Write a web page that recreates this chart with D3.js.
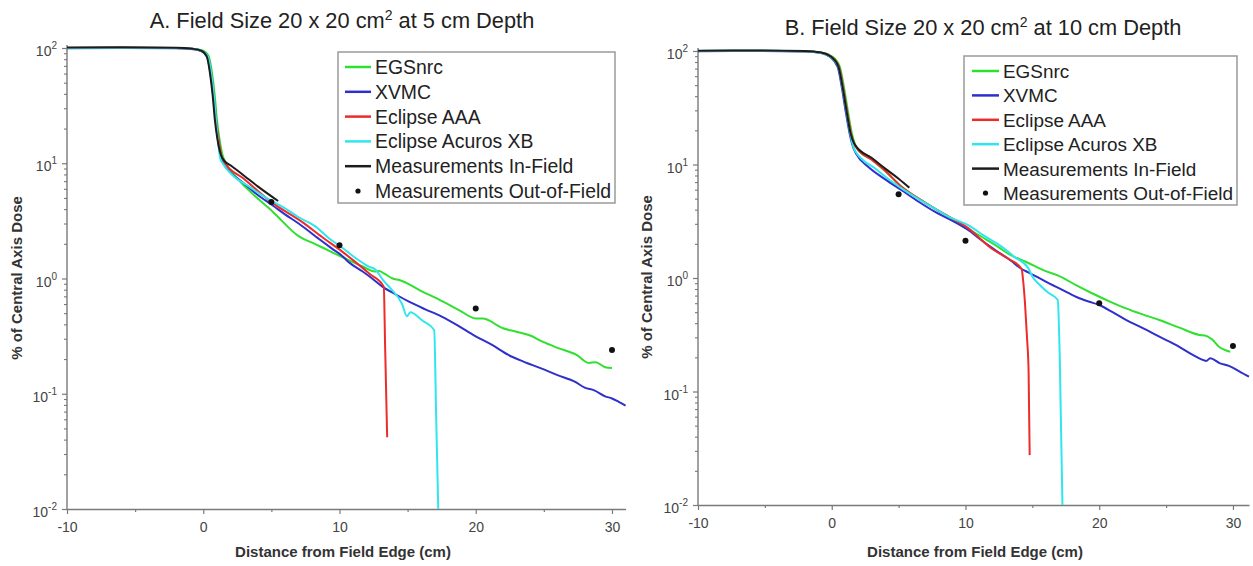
<!DOCTYPE html>
<html>
<head>
<meta charset="utf-8">
<script src="https://cdn.jsdelivr.net/npm/d3@7"></script>
<style>
  html, body { margin: 0; padding: 0; background: #fff; }
  svg { display: block; font-family: "Liberation Sans", Arial, sans-serif; }
</style>
</head>
<body>
<svg id="chart" width="1253" height="566"></svg>
<script>
// ---- Data: percent of central axis dose vs distance from field edge (cm) ----
const seriesNames = ["EGSnrc", "XVMC", "Eclipse AAA", "Eclipse Acuros XB", "Measurements In-Field", "Measurements Out-of-Field"];
const xTicksMajor = [-10, 0, 10, 20, 30];
const xTicksMinor = [-5, 5, 15, 25];
const yDecades = [-2, -1, 0, 1, 2];

// Panel A: 20 x 20 cm2 field, 5 cm depth
const egsA = [[-10,100],[-6,100.5],[-2,100],[-0.8,98.5],[-0.05,95],[0.4,85],[0.65,60],[0.85,38],[1.0,24],[1.2,16],[1.4,12],[1.6,10.4],[2.5,7.4],[3.5,5.6],[5.1,3.8],[7.0,2.33],[8.3,1.97],[9.5,1.68],[10.6,1.46],[11.7,1.27],[12.6,1.15],[12.9,1.16],[13.3,1.1],[13.9,1.0],[14.4,0.97],[15.9,0.79],[17.6,0.63],[18.8,0.53],[20.0,0.45],[20.5,0.45],[22.0,0.37],[23.0,0.345],[24.0,0.32],[24.9,0.283],[26.0,0.25],[27.4,0.217],[28.3,0.185],[28.8,0.188],[29.5,0.17],[30.0,0.167]];
const xvmcA = [[-10,99.5],[-6,100],[-2,99.5],[-0.9,98],[-0.15,94],[0.3,83],[0.55,58],[0.75,37],[0.9,24],[1.1,15.5],[1.3,11.3],[1.5,9.9],[2.0,8.3],[2.9,6.8],[4.0,5.3],[5.1,4.3],[6.0,3.6],[7.0,3.0],[8.5,2.2],[9.5,1.8],[10.2,1.57],[10.7,1.38],[11.7,1.15],[12.4,1.0],[13.15,0.85],[14.1,0.73],[15.1,0.63],[16.3,0.54],[17.5,0.467],[18.7,0.39],[19.9,0.32],[21.2,0.265],[22.4,0.217],[23.5,0.19],[24.8,0.166],[26.0,0.145],[27.3,0.127],[28.0,0.113],[28.7,0.107],[29.5,0.095],[30.0,0.091],[30.5,0.085],[31.0,0.079]];
const aaaA = [[-10,100],[-6,100.5],[-2,100],[-0.8,98.5],[-0.1,94.5],[0.35,84],[0.6,59],[0.8,37],[0.95,24],[1.15,15.5],[1.35,11.5],[1.55,10.2],[3,7.3],[5,4.6],[7.25,3.1],[8.7,2.3],[10.2,1.71],[11.2,1.38],[12.2,1.1],[13.25,0.85],[13.35,0.255],[13.5,0.042]];
const acurosA = [[-10,100],[-6,100.5],[-2,100],[-0.8,98.5],[-0.1,94.5],[0.35,84],[0.6,59],[0.8,37],[0.95,23],[1.1,15],[1.25,11],[1.45,9.9],[2.3,7.6],[3.35,6.3],[4.5,5.1],[5.8,4.2],[7.0,3.4],[8.25,2.82],[9.2,2.25],[10.2,1.85],[11.2,1.5],[12.15,1.27],[12.65,1.19],[13.2,0.97],[13.75,0.82],[14.6,0.6],[14.95,0.47],[15.2,0.51],[16.1,0.43],[16.95,0.357],[17.1,0.06],[17.25,0.01]];
const inFieldA = [[-10,101],[-6,101.3],[-2,100.5],[-0.8,98.5],[-0.15,95],[0.25,85],[0.5,60],[0.7,38],[0.85,24],[1.05,16],[1.3,11.8],[1.55,10.5],[2,9.6],[3,7.8],[4,6.3],[5.5,4.7]];
const outFieldXA = [5, 10, 20, 30];
const outFieldYA = [4.6, 1.94, 0.55, 0.24];

// Panel B: 20 x 20 cm2 field, 10 cm depth
const egsB = [[-10,100],[-6,100.5],[-2,99.5],[-0.7,96.5],[0,90],[0.6,73],[0.9,49],[1.2,30],[1.5,19],[1.75,15],[1.95,13.6],[3,11.0],[4,8.7],[5.2,6.4],[6.5,5.0],[8,3.9],[10,2.8],[11.5,2.2],[12.5,1.86],[13.25,1.62],[14.5,1.39],[15.2,1.27],[16,1.15],[17.1,1.03],[18.3,0.86],[19.5,0.73],[20.8,0.62],[22.0,0.54],[23.2,0.48],[24.5,0.427],[26,0.365],[27.5,0.315],[27.9,0.312],[28.4,0.29],[29.0,0.245],[29.8,0.224]];
const xvmcB = [[-10,99.5],[-6,100],[-2,99],[-0.8,96],[-0.15,89],[0.45,72],[0.75,48],[1.05,29],[1.35,18.5],[1.6,14.2],[1.85,12.3],[2.7,9.6],[4,7.4],[5.2,5.96],[6.5,4.7],[7.7,3.84],[9,3.2],[10.2,2.65],[11.2,2.15],[12.2,1.77],[13.4,1.42],[14.2,1.2],[14.7,1.12],[16,0.93],[17.2,0.79],[18.3,0.68],[19.2,0.62],[20.0,0.578],[21,0.5],[22.0,0.427],[23.3,0.36],[24.5,0.304],[25.8,0.255],[27.0,0.21],[27.6,0.193],[28.0,0.186],[28.3,0.196],[29.0,0.178],[29.7,0.168],[30.5,0.15],[31.2,0.135]];
const aaaB = [[-10,100],[-6,100.5],[-2,99.5],[-0.75,96.5],[-0.05,89.5],[0.55,72.5],[0.85,48.5],[1.15,29.5],[1.45,18.7],[1.7,15],[1.9,13.8],[3,11.0],[4,8.8],[5.2,6.4],[6.5,5.0],[8,3.9],[10.2,2.75],[12.0,1.8],[13.25,1.47],[14.2,1.2],[14.3,0.98],[14.45,0.6],[14.6,0.3],[14.72,0.15],[14.8,0.0275]];
const acurosB = [[-10,100],[-6,100.5],[-2,99.5],[-0.8,96],[-0.1,89],[0.5,72],[0.8,48],[1.1,29],[1.4,18.5],[1.6,14.5],[1.75,13.2],[2.2,11.3],[3.2,9.3],[4.2,7.5],[5.2,6.2],[6.5,4.95],[8,3.9],[9,3.35],[10.2,2.93],[11.4,2.35],[12.7,1.89],[13.7,1.52],[14.7,1.22],[15.0,1.03],[15.5,0.88],[16.2,0.74],[16.9,0.64],[17.05,0.2],[17.25,0.01]];
const inFieldB = [[-10,100.5],[-6,101],[-2,100],[-0.8,97],[-0.1,90],[0.5,73],[0.8,49],[1.1,30],[1.4,19],[1.65,15.5],[1.85,14.3],[3,11.4],[4,9.2],[5,7.5],[5.8,6.25]];
const outFieldXB = [5, 10, 20, 30];
const outFieldYB = [5.46, 2.13, 0.598, 0.252];

// ---- Styles ----
const colors = ["#2fe02f", "#2f2fcc", "#ee2b2b", "#30e6ee", "#1c1c1c", "#111"];
const axisColor = "#7a7a7a";
const textColor = "#333";

// ---- Layout for the two panels ----
const panels = [
  {
    title: "A. Field Size 20 x 20 cm", titleTail: " at 5 cm Depth",
    titleX: 342, titleY: 28,
    xDomain: [-10, 31], xRange: [67, 625.6], yRange: [509, 48],
    legend: { x: 338, y: 52, w: 277, h: 151, rowY0: 67, rowStep: 24.8, lineX0: 345, lineX1: 371, textX: 375, fontSize: 19.4 },
    yLabelX: 22, yLabelY: 278, xLabelX: 343, xLabelY: 557,
    curves: [egsA, xvmcA, aaaA, acurosA, inFieldA],
    dotsX: outFieldXA, dotsY: outFieldYA
  },
  {
    title: "B. Field Size 20 x 20 cm", titleTail: " at 10 cm Depth",
    titleX: 983, titleY: 35,
    xDomain: [-10, 31.2], xRange: [698, 1249], yRange: [505, 51],
    legend: { x: 964, y: 56, w: 273, h: 149, rowY0: 71, rowStep: 24.4, lineX0: 972, lineX1: 999, textX: 1003, fontSize: 18.9 },
    yLabelX: 652, yLabelY: 277, xLabelX: 975, xLabelY: 557,
    curves: [egsB, xvmcB, aaaB, acurosB, inFieldB],
    dotsX: outFieldXB, dotsY: outFieldYB
  }
];

const svg = d3.select("#chart");

function drawPanel(p) {
  const x = d3.scaleLinear().domain(p.xDomain).range(p.xRange);
  const y = d3.scaleLog().domain([0.01, 100]).range(p.yRange);
  const g = svg.append("g");
  const x0 = p.xRange[0], yb = p.yRange[0];

  // Title with superscript
  const t = g.append("text")
    .attr("x", p.titleX).attr("y", p.titleY)
    .attr("text-anchor", "middle")
    .attr("font-size", 21.8).attr("fill", "#222");
  t.append("tspan").text(p.title);
  t.append("tspan").attr("font-size", 14).attr("dy", -8).text("2");
  t.append("tspan").attr("dy", 8).text(p.titleTail);

  // X axis
  const xAxis = d3.axisBottom(x).tickValues(xTicksMajor).tickSize(5).tickSizeOuter(0).tickPadding(8)
    .tickFormat(d => String(d));
  const gx = g.append("g").attr("transform", `translate(0,${yb})`).call(xAxis);
  gx.select(".domain").attr("stroke", axisColor).attr("stroke-width", 1.4);
  gx.selectAll(".tick line").attr("stroke", axisColor).attr("stroke-width", 1.2);
  gx.selectAll(".tick text").attr("font-size", 14).attr("fill", "#444")
    .attr("font-family", "Liberation Sans, Arial, sans-serif");
  g.append("g").attr("transform", `translate(0,${yb})`)
    .call(d3.axisBottom(x).tickValues(xTicksMinor).tickSize(3).tickFormat(""))
    .call(s => { s.select(".domain").remove(); s.selectAll("line").attr("stroke", axisColor).attr("stroke-width", 1.2); });

  // Y axis (log) with minor ticks
  const minor = [];
  yDecades.slice(0, -1).forEach(e => { for (let k = 2; k <= 9; k++) minor.push(k * Math.pow(10, e)); });
  const gyMinor = g.append("g").attr("transform", `translate(${x0},0)`)
    .call(d3.axisLeft(y).tickValues(minor).tickSize(3).tickFormat("").tickSizeOuter(0));
  gyMinor.select(".domain").remove();
  gyMinor.selectAll("line").attr("stroke", axisColor).attr("stroke-width", 1.1);
  const gy = g.append("g").attr("transform", `translate(${x0},0)`)
    .call(d3.axisLeft(y).tickValues(yDecades.map(e => Math.pow(10, e))).tickSize(5).tickFormat("").tickSizeOuter(0));
  gy.select(".domain").remove();
  gy.selectAll("line").attr("stroke", axisColor).attr("stroke-width", 1.2);
  g.append("line").attr("x1", x0).attr("x2", x0).attr("y1", yb).attr("y2", p.yRange[1] - 3)
    .attr("stroke", axisColor).attr("stroke-width", 1.4);

  yDecades.forEach(e => {
    const lab = g.append("text").attr("x", x0 - 10).attr("y", y(Math.pow(10, e)) + 8)
      .attr("text-anchor", "end").attr("font-size", 14).attr("fill", "#444");
    lab.append("tspan").text("10");
    lab.append("tspan").attr("font-size", 10).attr("dy", -7).text(String(e));
  });

  // Axis titles
  g.append("text").attr("transform", `translate(${p.yLabelX},${p.yLabelY}) rotate(-90)`)
    .attr("text-anchor", "middle").attr("font-size", 15).attr("font-weight", "bold").attr("fill", textColor)
    .text("% of Central Axis Dose");
  g.append("text").attr("x", p.xLabelX).attr("y", p.xLabelY)
    .attr("text-anchor", "middle").attr("font-size", 15).attr("font-weight", "bold").attr("fill", textColor)
    .text("Distance from Field Edge (cm)");

  // Curves
  const line = d3.line().x(d => x(d[0])).y(d => y(d[1])).curve(d3.curveMonotoneX);
  p.curves.forEach((c, i) => {
    g.append("path").datum(c).attr("d", line)
      .attr("fill", "none").attr("stroke", colors[i]).attr("stroke-width", 2)
      .attr("stroke-linejoin", "round");
  });

  // Out-of-field measurements
  g.selectAll("circle.meas").data(p.dotsX.map((d, i) => [d, p.dotsY[i]])).enter()
    .append("circle").attr("class", "meas")
    .attr("cx", d => x(d[0])).attr("cy", d => y(d[1])).attr("r", 3).attr("fill", colors[5]);

  // Legend
  const L = p.legend;
  g.append("rect").attr("x", L.x).attr("y", L.y).attr("width", L.w).attr("height", L.h)
    .attr("fill", "#fff").attr("stroke", "#9a9a9a").attr("stroke-width", 1.5);
  seriesNames.forEach((name, i) => {
    const cy = L.rowY0 + i * L.rowStep;
    if (i < 5) {
      g.append("line").attr("x1", L.lineX0).attr("x2", L.lineX1).attr("y1", cy).attr("y2", cy)
        .attr("stroke", colors[i]).attr("stroke-width", 2.5);
    } else {
      g.append("circle").attr("cx", (L.lineX0 + L.lineX1) / 2).attr("cy", cy).attr("r", 2.6).attr("fill", colors[5]);
    }
    g.append("text").attr("x", L.textX).attr("y", cy + 7)
      .attr("font-size", L.fontSize).attr("fill", "#222").text(name);
  });
}

panels.forEach(drawPanel);
</script>
</body>
</html>
